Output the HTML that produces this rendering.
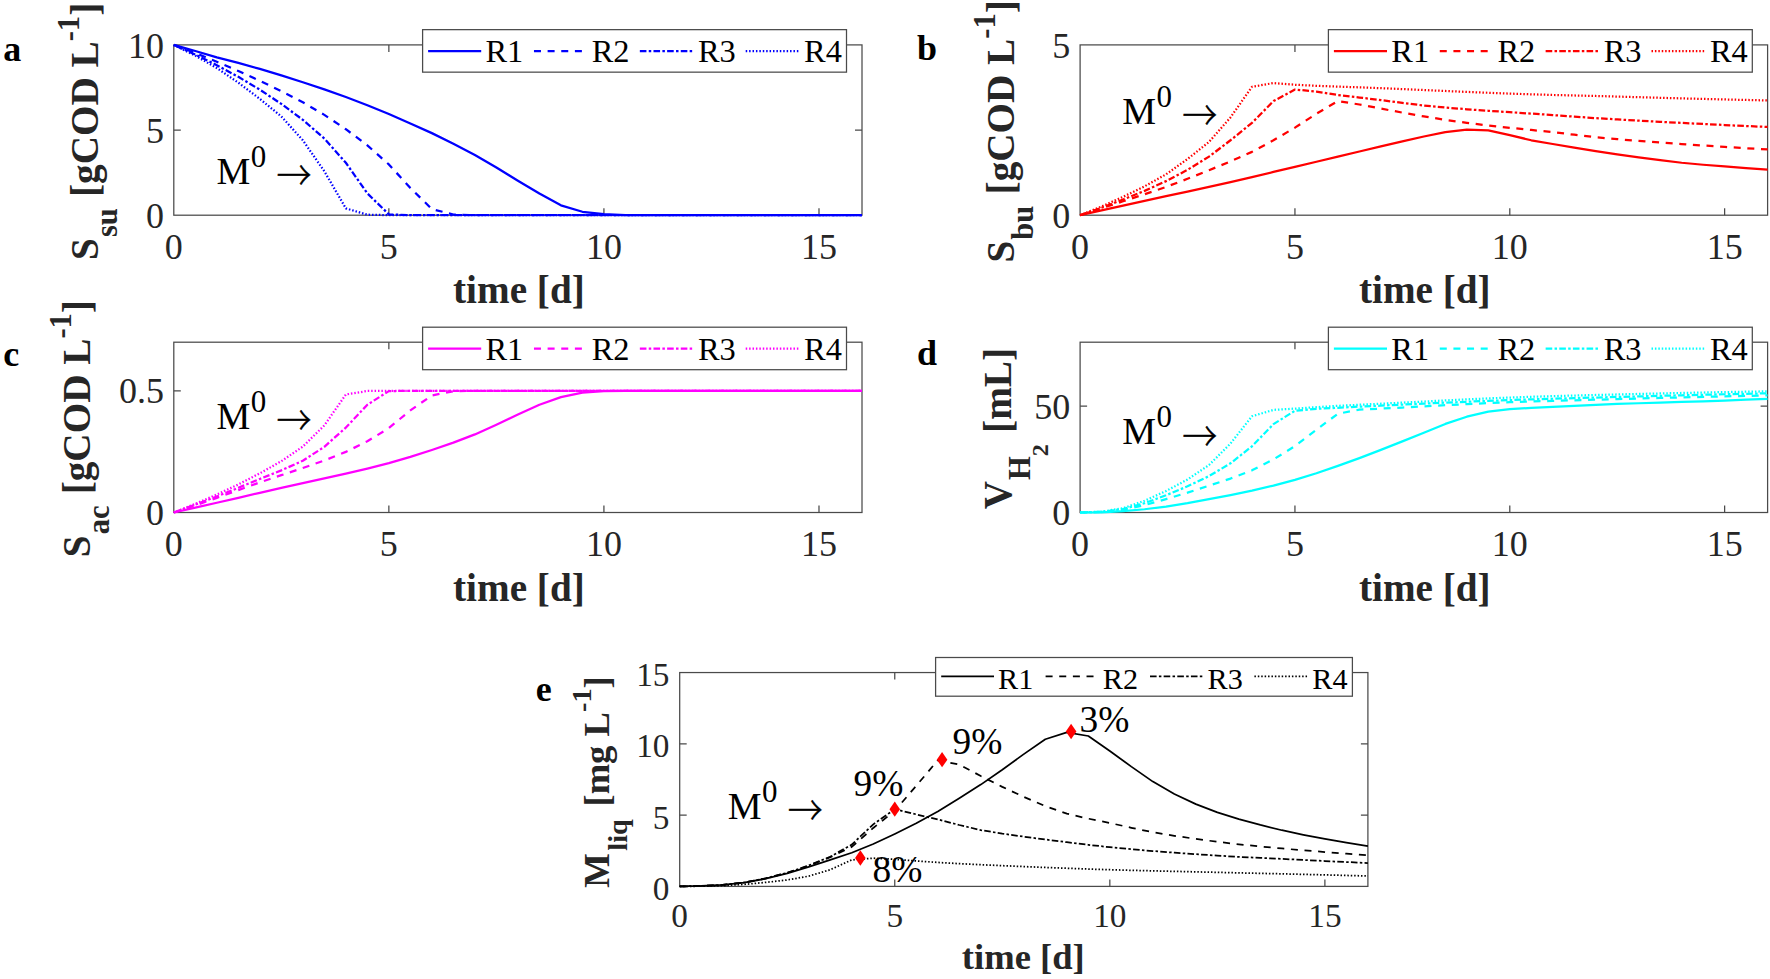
<!DOCTYPE html>
<html lang="en">
<head>
<meta charset="utf-8">
<title>Figure</title>
<style>
html,body{margin:0;padding:0;background:#fff;}
svg{display:block;font-family:"Liberation Serif",serif;}
</style>
</head>
<body>
<svg width="1770" height="979" viewBox="0 0 1770 979">
<rect width="1770" height="979" fill="#fff"/>
<g id="panel-a">
<g stroke="#4a4a4a" stroke-width="1.25" fill="none">
<rect x="173.8" y="44.9" width="688.2" height="170.3"/>
<path d="M388.86 215.2v-7M388.86 44.9v7M603.92 215.2v-7M603.92 44.9v7M818.99 215.2v-7M818.99 44.9v7M173.8 130.05h7M862 130.05h-7"/>
</g>
<clipPath id="clip-a"><rect x="172.3" y="43.4" width="691.2" height="173.3"/></clipPath>
<g clip-path="url(#clip-a)" fill="none" stroke="#0000ff" stroke-width="2.25" stroke-linejoin="round">
<polyline points="173.8,44.9 195.31,51.03 216.81,57.33 238.32,62.95 259.83,68.91 281.33,75.38 302.84,82.2 324.34,89.35 345.85,97.01 367.36,105.19 388.86,114.04 410.37,123.58 431.88,133.12 453.38,143.67 474.89,154.91 496.39,167.52 517.9,180.8 539.41,193.57 560.91,205.32 582.42,211.79 603.92,214.18 625.43,215.03 646.94,215.2 668.44,215.2 689.95,215.2 711.46,215.2 732.96,215.2 754.47,215.2 775.98,215.2 797.48,215.2 818.99,215.2 840.49,215.2 862,215.2"/>
<polyline points="173.8,44.9 195.31,53.06 216.81,61.76 238.32,71.01 259.83,80.83 281.33,91.16 302.84,102.29 324.34,114.89 345.85,129.2 367.36,145.38 388.86,164.45 410.37,187.95 431.88,209.07 453.38,214.52 474.89,215.2 496.39,215.2 517.9,215.2 539.41,215.2 560.91,215.2 582.42,215.2 603.92,215.2 625.43,215.2 646.94,215.2 668.44,215.2 689.95,215.2 711.46,215.2 732.96,215.2 754.47,215.2 775.98,215.2 797.48,215.2 818.99,215.2 840.49,215.2 862,215.2" stroke-dasharray="7 6.64"/>
<polyline points="173.8,44.9 195.31,54.53 216.81,65.17 238.32,76.82 259.83,89.69 281.33,103.91 302.84,119.83 324.34,138.56 345.85,162.75 367.36,193.4 388.86,214.35 410.37,215.2 431.88,215.2 453.38,215.2 474.89,215.2 496.39,215.2 517.9,215.2 539.41,215.2 560.91,215.2 582.42,215.2 603.92,215.2 625.43,215.2 646.94,215.2 668.44,215.2 689.95,215.2 711.46,215.2 732.96,215.2 754.47,215.2 775.98,215.2 797.48,215.2 818.99,215.2 840.49,215.2 862,215.2" stroke-dasharray="6.6 2.3 2.5 2.24" stroke-dashoffset="10.51"/>
<polyline points="173.8,44.9 195.31,55.59 216.81,68.06 238.32,82.65 259.83,98.89 281.33,116.43 302.84,140.27 324.34,171.26 345.85,208.39 367.36,214.69 388.86,215.2 410.37,215.2 431.88,215.2 453.38,215.2 474.89,215.2 496.39,215.2 517.9,215.2 539.41,215.2 560.91,215.2 582.42,215.2 603.92,215.2 625.43,215.2 646.94,215.2 668.44,215.2 689.95,215.2 711.46,215.2 732.96,215.2 754.47,215.2 775.98,215.2 797.48,215.2 818.99,215.2 840.49,215.2 862,215.2" stroke-dasharray="1.5 1.91"/>
</g>
<g fill="#262626" font-size="36">
<text x="173.8" y="258.9" text-anchor="middle">0</text>
<text x="388.86" y="258.9" text-anchor="middle">5</text>
<text x="603.92" y="258.9" text-anchor="middle">10</text>
<text x="818.99" y="258.9" text-anchor="middle">15</text>
<text x="163.9" y="227.8" text-anchor="end">0</text>
<text x="163.9" y="142.65" text-anchor="end">5</text>
<text x="163.9" y="57.5" text-anchor="end">10</text>
</g>
<text x="518.9" y="303.2" text-anchor="middle" font-size="39.2" font-weight="bold" fill="#262626">time [d]</text>
<text transform="translate(98.3,131.35) rotate(-90)" text-anchor="middle" font-size="39.2" font-weight="bold" fill="#262626">S<tspan font-size="30.5" dx="1.0" dy="19">su</tspan><tspan dx="1.5" dy="-19"> [gCOD L</tspan><tspan font-size="30.5" dy="-19.3">-1</tspan><tspan dy="19.3">]</tspan></text>
<rect x="422.6" y="29.65" width="423.9" height="42.5" fill="#fff" stroke="#4a4a4a" stroke-width="1.25"/>
<line x1="428.1" y1="51" x2="481.2" y2="51" stroke="#0000ff" stroke-width="2.25"/>
<text x="485.5" y="62.3" font-size="32.4" fill="#000">R1</text>
<line x1="533.97" y1="51" x2="587.07" y2="51" stroke="#0000ff" stroke-width="2.25" stroke-dasharray="7 6.64"/>
<text x="591.7" y="62.3" font-size="32.4" fill="#000">R2</text>
<line x1="639.84" y1="51" x2="692.94" y2="51" stroke="#0000ff" stroke-width="2.25" stroke-dasharray="6.6 2.3 2.5 2.24"/>
<text x="697.9" y="62.3" font-size="32.4" fill="#000">R3</text>
<line x1="745.71" y1="51" x2="798.81" y2="51" stroke="#0000ff" stroke-width="2.25" stroke-dasharray="1.5 1.91"/>
<text x="804.1" y="62.3" font-size="32.4" fill="#000">R4</text>
<text x="216.4" y="183.9" font-size="38" fill="#000">M<tspan font-size="31" dx="0.6" dy="-17">0</tspan></text>
<text transform="translate(276.4,175.2) scale(1,1.13)" y="13.3" font-size="35" font-family="'Noto Serif CJK SC','Noto Serif CJK JP',serif" fill="#000" stroke="#000" stroke-width="0.4">→</text>
<text x="3.3" y="60.9" font-size="36" font-weight="bold" fill="#000">a</text>
</g>
<g id="panel-b">
<g stroke="#4a4a4a" stroke-width="1.25" fill="none">
<rect x="1080.1" y="44.9" width="687.5" height="170.3"/>
<path d="M1294.94 215.2v-7M1294.94 44.9v7M1509.79 215.2v-7M1509.79 44.9v7M1724.63 215.2v-7M1724.63 44.9v7"/>
</g>
<clipPath id="clip-b"><rect x="1078.6" y="43.4" width="690.5" height="173.3"/></clipPath>
<g clip-path="url(#clip-b)" fill="none" stroke="#ff0000" stroke-width="2.25" stroke-linejoin="round">
<polyline points="1080.1,215.2 1101.58,210.43 1123.07,205.66 1144.55,200.87 1166.04,196.13 1187.52,191.54 1209.01,186.93 1230.49,182.17 1251.97,177.22 1273.46,171.94 1294.94,166.83 1316.43,161.73 1337.91,156.62 1359.4,151.51 1380.88,146.4 1402.37,141.29 1423.85,136.52 1445.33,132.09 1466.82,129.54 1488.3,130.39 1509.79,135.16 1531.27,140.27 1552.76,144.01 1574.24,147.68 1595.72,151.17 1617.21,154.34 1638.69,157.3 1660.18,160.19 1681.66,162.75 1703.15,164.75 1724.63,166.49 1746.12,168.11 1767.6,169.56"/>
<polyline points="1080.1,215.2 1101.58,208.26 1123.07,201.24 1144.55,194.24 1166.04,186.93 1187.52,178.82 1209.01,170.24 1230.49,161.39 1251.97,151.85 1273.46,140.27 1294.94,127.67 1316.43,113.7 1337.91,101.1 1359.4,104.51 1380.88,108.59 1402.37,112.63 1423.85,116.43 1445.33,119.85 1466.82,122.9 1488.3,125.5 1509.79,127.84 1531.27,129.96 1552.76,132.09 1574.24,134.71 1595.72,137.2 1617.21,139.16 1638.69,140.9 1660.18,142.49 1681.66,144.01 1703.15,145.49 1724.63,146.9 1746.12,148.23 1767.6,149.46" stroke-dasharray="7 6.64"/>
<polyline points="1080.1,215.2 1101.58,207.69 1123.07,199.53 1144.55,190.85 1166.04,181.14 1187.52,169.81 1209.01,156.62 1230.49,140.27 1251.97,122.9 1273.46,101.1 1294.94,89.52 1316.43,91.58 1337.91,94.97 1359.4,97.52 1380.88,100.08 1402.37,102.91 1423.85,105.53 1445.33,107.55 1466.82,109.27 1488.3,110.77 1509.79,112.17 1531.27,113.61 1552.76,115.06 1574.24,116.63 1595.72,118.13 1617.21,119.43 1638.69,120.64 1660.18,121.79 1681.66,122.9 1703.15,123.98 1724.63,125.02 1746.12,126.03 1767.6,126.98" stroke-dasharray="6.6 2.3 2.5 2.24"/>
<polyline points="1080.1,215.2 1101.58,206.49 1123.07,196.81 1144.55,186.34 1166.04,174.33 1187.52,159 1209.01,141.97 1230.49,117.45 1251.97,86.79 1273.46,83.05 1294.94,84.75 1316.43,85.8 1337.91,86.62 1359.4,87.35 1380.88,88.16 1402.37,89.08 1423.85,90.03 1445.33,90.99 1466.82,91.9 1488.3,92.79 1509.79,93.61 1531.27,94.33 1552.76,94.97 1574.24,95.49 1595.72,95.99 1617.21,96.57 1638.69,97.18 1660.18,97.79 1681.66,98.37 1703.15,98.92 1724.63,99.44 1746.12,99.94 1767.6,100.42" stroke-dasharray="1.5 1.91"/>
</g>
<g fill="#262626" font-size="36">
<text x="1080.1" y="258.9" text-anchor="middle">0</text>
<text x="1294.94" y="258.9" text-anchor="middle">5</text>
<text x="1509.79" y="258.9" text-anchor="middle">10</text>
<text x="1724.63" y="258.9" text-anchor="middle">15</text>
<text x="1070.2" y="227.8" text-anchor="end">0</text>
<text x="1070.2" y="57.5" text-anchor="end">5</text>
</g>
<text x="1424.85" y="303.2" text-anchor="middle" font-size="39.2" font-weight="bold" fill="#262626">time [d]</text>
<text transform="translate(1013.8,131.35) rotate(-90)" text-anchor="middle" font-size="39.2" font-weight="bold" fill="#262626">S<tspan font-size="30.5" dx="1.0" dy="19">bu</tspan><tspan dx="1.5" dy="-19"> [gCOD L</tspan><tspan font-size="30.5" dy="-19.3">-1</tspan><tspan dy="19.3">]</tspan></text>
<rect x="1328.4" y="29.65" width="423.9" height="42.5" fill="#fff" stroke="#4a4a4a" stroke-width="1.25"/>
<line x1="1333.9" y1="51" x2="1387" y2="51" stroke="#ff0000" stroke-width="2.25"/>
<text x="1391.3" y="62.3" font-size="32.4" fill="#000">R1</text>
<line x1="1439.77" y1="51" x2="1492.87" y2="51" stroke="#ff0000" stroke-width="2.25" stroke-dasharray="7 6.64"/>
<text x="1497.5" y="62.3" font-size="32.4" fill="#000">R2</text>
<line x1="1545.64" y1="51" x2="1598.74" y2="51" stroke="#ff0000" stroke-width="2.25" stroke-dasharray="6.6 2.3 2.5 2.24"/>
<text x="1603.7" y="62.3" font-size="32.4" fill="#000">R3</text>
<line x1="1651.51" y1="51" x2="1704.61" y2="51" stroke="#ff0000" stroke-width="2.25" stroke-dasharray="1.5 1.91"/>
<text x="1709.9" y="62.3" font-size="32.4" fill="#000">R4</text>
<text x="1122.2" y="124.1" font-size="38" fill="#000">M<tspan font-size="31" dx="0.6" dy="-17">0</tspan></text>
<text transform="translate(1182.2,115.4) scale(1,1.13)" y="13.3" font-size="35" font-family="'Noto Serif CJK SC','Noto Serif CJK JP',serif" fill="#000" stroke="#000" stroke-width="0.4">→</text>
<text x="917" y="59.6" font-size="36" font-weight="bold" fill="#000">b</text>
</g>
<g id="panel-c">
<g stroke="#4a4a4a" stroke-width="1.25" fill="none">
<rect x="173.8" y="342.2" width="688.2" height="170.3"/>
<path d="M388.86 512.5v-7M388.86 342.2v7M603.92 512.5v-7M603.92 342.2v7M818.99 512.5v-7M818.99 342.2v7M173.8 390.86h7M862 390.86h-7"/>
</g>
<clipPath id="clip-c"><rect x="172.3" y="340.7" width="691.2" height="173.3"/></clipPath>
<g clip-path="url(#clip-c)" fill="none" stroke="#ff00ff" stroke-width="2.25" stroke-linejoin="round">
<polyline points="173.8,512.5 195.31,507.66 216.81,502.77 238.32,497.78 259.83,492.79 281.33,487.9 302.84,483.06 324.34,478.36 345.85,473.57 367.36,468.56 388.86,463.11 410.37,456.87 431.88,449.98 453.38,442.6 474.89,434.41 496.39,424.7 517.9,414.46 539.41,404.72 560.91,397.18 582.42,392.56 603.92,391.03 625.43,390.86 646.94,390.86 668.44,390.86 689.95,390.86 711.46,390.86 732.96,390.86 754.47,390.86 775.98,390.86 797.48,390.86 818.99,390.86 840.49,390.86 862,390.86"/>
<polyline points="173.8,512.5 195.31,505.32 216.81,497.9 238.32,490.1 259.83,482.33 281.33,475.18 302.84,467.98 324.34,460.45 345.85,451.92 367.36,441.25 388.86,428.08 410.37,410.32 431.88,395.48 453.38,391.2 474.89,390.86 496.39,390.86 517.9,390.86 539.41,390.86 560.91,390.86 582.42,390.86 603.92,390.86 625.43,390.86 646.94,390.86 668.44,390.86 689.95,390.86 711.46,390.86 732.96,390.86 754.47,390.86 775.98,390.86 797.48,390.86 818.99,390.86 840.49,390.86 862,390.86" stroke-dasharray="7 6.64"/>
<polyline points="173.8,512.5 195.31,504.65 216.81,496.44 238.32,487.82 259.83,478.93 281.33,470.39 302.84,460.68 324.34,446.81 345.85,427.59 367.36,404.72 388.86,391.1 410.37,390.86 431.88,390.86 453.38,390.86 474.89,390.86 496.39,390.86 517.9,390.86 539.41,390.86 560.91,390.86 582.42,390.86 603.92,390.86 625.43,390.86 646.94,390.86 668.44,390.86 689.95,390.86 711.46,390.86 732.96,390.86 754.47,390.86 775.98,390.86 797.48,390.86 818.99,390.86 840.49,390.86 862,390.86" stroke-dasharray="6.6 2.3 2.5 2.24" stroke-dashoffset="13"/>
<polyline points="173.8,512.5 195.31,503.88 216.81,494.5 238.32,484.44 259.83,473.33 281.33,461.2 302.84,446.57 324.34,425.4 345.85,394.51 367.36,390.98 388.86,390.86 410.37,390.86 431.88,390.86 453.38,390.86 474.89,390.86 496.39,390.86 517.9,390.86 539.41,390.86 560.91,390.86 582.42,390.86 603.92,390.86 625.43,390.86 646.94,390.86 668.44,390.86 689.95,390.86 711.46,390.86 732.96,390.86 754.47,390.86 775.98,390.86 797.48,390.86 818.99,390.86 840.49,390.86 862,390.86" stroke-dasharray="1.5 1.91"/>
</g>
<g fill="#262626" font-size="36">
<text x="173.8" y="556.2" text-anchor="middle">0</text>
<text x="388.86" y="556.2" text-anchor="middle">5</text>
<text x="603.92" y="556.2" text-anchor="middle">10</text>
<text x="818.99" y="556.2" text-anchor="middle">15</text>
<text x="163.9" y="525.1" text-anchor="end">0</text>
<text x="163.9" y="403.46" text-anchor="end">0.5</text>
</g>
<text x="518.9" y="600.5" text-anchor="middle" font-size="39.2" font-weight="bold" fill="#262626">time [d]</text>
<text transform="translate(89.8,428.65) rotate(-90)" text-anchor="middle" font-size="39.2" font-weight="bold" fill="#262626">S<tspan font-size="30.5" dx="1.0" dy="19">ac</tspan><tspan dx="1.5" dy="-19"> [gCOD L</tspan><tspan font-size="30.5" dy="-19.3">-1</tspan><tspan dy="19.3">]</tspan></text>
<rect x="422.6" y="327.2" width="423.9" height="42.5" fill="#fff" stroke="#4a4a4a" stroke-width="1.25"/>
<line x1="428.1" y1="348.55" x2="481.2" y2="348.55" stroke="#ff00ff" stroke-width="2.25"/>
<text x="485.5" y="359.85" font-size="32.4" fill="#000">R1</text>
<line x1="533.97" y1="348.55" x2="587.07" y2="348.55" stroke="#ff00ff" stroke-width="2.25" stroke-dasharray="7 6.64"/>
<text x="591.7" y="359.85" font-size="32.4" fill="#000">R2</text>
<line x1="639.84" y1="348.55" x2="692.94" y2="348.55" stroke="#ff00ff" stroke-width="2.25" stroke-dasharray="6.6 2.3 2.5 2.24"/>
<text x="697.9" y="359.85" font-size="32.4" fill="#000">R3</text>
<line x1="745.71" y1="348.55" x2="798.81" y2="348.55" stroke="#ff00ff" stroke-width="2.25" stroke-dasharray="1.5 1.91"/>
<text x="804.1" y="359.85" font-size="32.4" fill="#000">R4</text>
<text x="216.4" y="429" font-size="38" fill="#000">M<tspan font-size="31" dx="0.6" dy="-17">0</tspan></text>
<text transform="translate(276.4,420.3) scale(1,1.13)" y="13.3" font-size="35" font-family="'Noto Serif CJK SC','Noto Serif CJK JP',serif" fill="#000" stroke="#000" stroke-width="0.4">→</text>
<text x="3.3" y="365.6" font-size="36" font-weight="bold" fill="#000">c</text>
</g>
<g id="panel-d">
<g stroke="#4a4a4a" stroke-width="1.25" fill="none">
<rect x="1080.1" y="342.2" width="687.5" height="170.3"/>
<path d="M1294.94 512.5v-7M1294.94 342.2v7M1509.79 512.5v-7M1509.79 342.2v7M1724.63 512.5v-7M1724.63 342.2v7M1080.1 406.06h7M1767.6 406.06h-7"/>
</g>
<clipPath id="clip-d"><rect x="1078.6" y="340.7" width="690.5" height="173.3"/></clipPath>
<g clip-path="url(#clip-d)" fill="none" stroke="#00ffff" stroke-width="2.25" stroke-linejoin="round">
<polyline points="1080.1,512.5 1101.58,512.29 1123.07,511.22 1144.55,509.25 1166.04,506.54 1187.52,503.09 1209.01,499.09 1230.49,495.02 1251.97,490.57 1273.46,485.58 1294.94,479.93 1316.43,473.26 1337.91,465.88 1359.4,458.1 1380.88,449.91 1402.37,441.4 1423.85,432.67 1445.33,423.94 1466.82,416.71 1488.3,411.6 1509.79,409.04 1531.27,407.85 1552.76,406.91 1574.24,405.8 1595.72,404.79 1617.21,403.97 1638.69,403.25 1660.18,402.59 1681.66,401.94 1703.15,401.27 1724.63,400.53 1746.12,399.7 1767.6,398.82"/>
<polyline points="1080.1,512.5 1101.58,511.97 1123.07,509.73 1144.55,505.14 1166.04,499.09 1187.52,492.69 1209.01,485.68 1230.49,478.57 1251.97,470.35 1273.46,459.41 1294.94,446.08 1316.43,429.69 1337.91,413.73 1359.4,409.68 1380.88,408.62 1402.37,407.51 1423.85,406.36 1445.33,405.21 1466.82,404.11 1488.3,403.1 1509.79,402.23 1531.27,401.5 1552.76,400.85 1574.24,400.26 1595.72,399.68 1617.21,399.09 1638.69,398.52 1660.18,397.97 1681.66,397.42 1703.15,396.89 1724.63,396.38 1746.12,395.89 1767.6,395.42" stroke-dasharray="7 6.64"/>
<polyline points="1080.1,512.5 1101.58,511.86 1123.07,509.09 1144.55,503.21 1166.04,495.26 1187.52,486.32 1209.01,476.1 1230.49,463.33 1251.97,446.3 1273.46,424.16 1294.94,410.75 1316.43,408.83 1337.91,407.77 1359.4,406.64 1380.88,405.64 1402.37,404.64 1423.85,403.64 1445.33,402.68 1466.82,401.76 1488.3,400.89 1509.79,400.1 1531.27,399.39 1552.76,398.75 1574.24,398.14 1595.72,397.55 1617.21,396.97 1638.69,396.4 1660.18,395.84 1681.66,395.29 1703.15,394.77 1724.63,394.25 1746.12,393.76 1767.6,393.29" stroke-dasharray="6.6 2.3 2.5 2.24"/>
<polyline points="1080.1,512.5 1101.58,511.65 1123.07,508.24 1144.55,500.79 1166.04,491 1187.52,479.5 1209.01,465.03 1230.49,443.53 1251.97,416.28 1273.46,409.89 1294.94,408.62 1316.43,407.2 1337.91,405.85 1359.4,404.75 1380.88,403.72 1402.37,402.64 1423.85,401.53 1445.33,400.43 1466.82,399.37 1488.3,398.4 1509.79,397.55 1531.27,396.81 1552.76,396.15 1574.24,395.55 1595.72,394.99 1617.21,394.46 1638.69,393.94 1660.18,393.45 1681.66,392.97 1703.15,392.52 1724.63,392.11 1746.12,391.72 1767.6,391.37" stroke-dasharray="1.5 1.91"/>
</g>
<g fill="#262626" font-size="36">
<text x="1080.1" y="556.2" text-anchor="middle">0</text>
<text x="1294.94" y="556.2" text-anchor="middle">5</text>
<text x="1509.79" y="556.2" text-anchor="middle">10</text>
<text x="1724.63" y="556.2" text-anchor="middle">15</text>
<text x="1070.2" y="525.1" text-anchor="end">0</text>
<text x="1070.2" y="418.66" text-anchor="end">50</text>
</g>
<text x="1424.85" y="600.5" text-anchor="middle" font-size="39.2" font-weight="bold" fill="#262626">time [d]</text>
<text transform="translate(1011.2,428.65) rotate(-90)" text-anchor="middle" font-size="39.2" font-weight="bold" fill="#262626">V<tspan font-size="30.5" dx="1" dy="19">H</tspan><tspan font-size="24" dy="18">2</tspan><tspan dx="1.5" dy="-37"> [mL]</tspan></text>
<rect x="1328.4" y="327.2" width="423.9" height="42.5" fill="#fff" stroke="#4a4a4a" stroke-width="1.25"/>
<line x1="1333.9" y1="348.55" x2="1387" y2="348.55" stroke="#00ffff" stroke-width="2.25"/>
<text x="1391.3" y="359.85" font-size="32.4" fill="#000">R1</text>
<line x1="1439.77" y1="348.55" x2="1492.87" y2="348.55" stroke="#00ffff" stroke-width="2.25" stroke-dasharray="7 6.64"/>
<text x="1497.5" y="359.85" font-size="32.4" fill="#000">R2</text>
<line x1="1545.64" y1="348.55" x2="1598.74" y2="348.55" stroke="#00ffff" stroke-width="2.25" stroke-dasharray="6.6 2.3 2.5 2.24"/>
<text x="1603.7" y="359.85" font-size="32.4" fill="#000">R3</text>
<line x1="1651.51" y1="348.55" x2="1704.61" y2="348.55" stroke="#00ffff" stroke-width="2.25" stroke-dasharray="1.5 1.91"/>
<text x="1709.9" y="359.85" font-size="32.4" fill="#000">R4</text>
<text x="1122.2" y="444.4" font-size="38" fill="#000">M<tspan font-size="31" dx="0.6" dy="-17">0</tspan></text>
<text transform="translate(1182.2,435.7) scale(1,1.13)" y="13.3" font-size="35" font-family="'Noto Serif CJK SC','Noto Serif CJK JP',serif" fill="#000" stroke="#000" stroke-width="0.4">→</text>
<text x="917" y="365.4" font-size="36" font-weight="bold" fill="#000">d</text>
</g>
<g id="panel-e">
<g stroke="#4a4a4a" stroke-width="1.25" fill="none">
<rect x="679.7" y="672.55" width="688.2" height="213.85"/>
<path d="M894.76 886.4v-7M894.76 672.55v7M1109.83 886.4v-7M1109.83 672.55v7M1324.89 886.4v-7M1324.89 672.55v7M679.7 815.12h7M1367.9 815.12h-7M679.7 743.83h7M1367.9 743.83h-7"/>
</g>
<clipPath id="clip-e"><rect x="678.2" y="671.05" width="691.2" height="216.85"/></clipPath>
<g clip-path="url(#clip-e)" fill="none" stroke="#000000" stroke-width="1.75" stroke-linejoin="round">
<polyline points="679.7,886.4 701.21,885.98 722.71,884.97 744.22,882.57 765.73,878.7 787.23,873.38 808.74,866.87 830.24,859.88 851.75,852.75 873.26,844.06 894.76,833.94 916.27,823.24 937.78,811.55 959.28,798.29 980.79,784.61 1002.29,769.78 1023.8,754.1 1045.31,739.27 1066.81,732.43 1088.32,735.99 1109.83,750.96 1131.33,766.64 1152.84,781.61 1174.34,794.02 1195.85,804.14 1217.36,812.41 1238.86,819.11 1260.37,824.95 1281.88,830.23 1303.38,834.79 1324.89,838.93 1346.39,842.63 1367.9,846.2"/>
<polyline points="679.7,886.4 701.21,885.98 722.71,884.97 744.22,882.48 765.73,878.42 787.23,872.84 808.74,865.73 830.24,857.17 851.75,846.91 873.26,827.95 894.76,810.84 916.27,785.75 937.78,760.37 959.28,764.51 980.79,776.05 1002.29,786.89 1023.8,796.87 1045.31,806.11 1066.81,813.69 1088.32,818.66 1109.83,822.96 1131.33,827.78 1152.84,832.22 1174.34,835.8 1195.85,838.93 1217.36,841.8 1238.86,844.34 1260.37,846.52 1281.88,848.48 1303.38,850.32 1324.89,852.04 1346.39,853.66 1367.9,855.18" stroke-dasharray="7 6.64"/>
<polyline points="679.7,886.4 701.21,885.98 722.71,884.97 744.22,882.49 765.73,878.42 787.23,872.73 808.74,865.44 830.24,856.75 851.75,844.63 873.26,824.38 894.76,809.13 916.27,814.4 937.78,819.39 959.28,825.01 980.79,830.09 1002.29,833.63 1023.8,836.64 1045.31,839.52 1066.81,842.2 1088.32,844.81 1109.83,847.19 1131.33,849.23 1152.84,851.04 1174.34,852.68 1195.85,854.18 1217.36,855.61 1238.86,856.89 1260.37,857.92 1281.88,858.88 1303.38,859.95 1324.89,861.02 1346.39,862.04 1367.9,863.02" stroke-dasharray="6.6 2.3 2.5 2.24"/>
<polyline points="679.7,886.4 701.21,886.19 722.71,885.69 744.22,884.4 765.73,882.41 787.23,879.98 808.74,876.14 830.24,869.72 851.75,859.88 873.26,858.17 894.76,859.31 916.27,860.89 937.78,862.45 959.28,863.64 980.79,864.71 1002.29,865.67 1023.8,866.58 1045.31,867.46 1066.81,868.28 1088.32,869.04 1109.83,869.72 1131.33,870.31 1152.84,870.85 1174.34,871.35 1195.85,871.86 1217.36,872.36 1238.86,872.86 1260.37,873.35 1281.88,873.85 1303.38,874.38 1324.89,874.91 1346.39,875.44 1367.9,875.99" stroke-dasharray="1.5 1.91"/>
</g>
<g fill="#262626" font-size="33.3">
<text x="679.7" y="927.1" text-anchor="middle">0</text>
<text x="894.76" y="927.1" text-anchor="middle">5</text>
<text x="1109.83" y="927.1" text-anchor="middle">10</text>
<text x="1324.89" y="927.1" text-anchor="middle">15</text>
<text x="669.5" y="899.8" text-anchor="end">0</text>
<text x="669.5" y="828.52" text-anchor="end">5</text>
<text x="669.5" y="757.23" text-anchor="end">10</text>
<text x="669.5" y="685.95" text-anchor="end">15</text>
</g>
<text x="1023.3" y="968.7" text-anchor="middle" font-size="36.6" font-weight="bold" fill="#262626">time [d]</text>
<text transform="translate(609.2,781.97) rotate(-90)" text-anchor="middle" font-size="36.6" font-weight="bold" fill="#262626">M<tspan font-size="28.3" dx="2.5" dy="17.6">liq</tspan><tspan dx="3.5" dy="-17.6"> [mg L</tspan><tspan font-size="28.3" dy="-17.9">-1</tspan><tspan dy="17.9">]</tspan></text>
<rect x="935.6" y="657.5" width="416.8" height="38.7" fill="#fff" stroke="#4a4a4a" stroke-width="1.25"/>
<line x1="941.2" y1="676.4" x2="994" y2="676.4" stroke="#000000" stroke-width="1.75"/>
<text x="998.1" y="688.5" font-size="30.2" fill="#000">R1</text>
<line x1="1045.6" y1="676.4" x2="1098.4" y2="676.4" stroke="#000000" stroke-width="1.75" stroke-dasharray="7 6.64"/>
<text x="1102.83" y="688.5" font-size="30.2" fill="#000">R2</text>
<line x1="1150" y1="676.4" x2="1202.8" y2="676.4" stroke="#000000" stroke-width="1.75" stroke-dasharray="6.6 2.3 2.5 2.24"/>
<text x="1207.56" y="688.5" font-size="30.2" fill="#000">R3</text>
<line x1="1254.4" y1="676.4" x2="1307.2" y2="676.4" stroke="#000000" stroke-width="1.75" stroke-dasharray="1.5 1.91"/>
<text x="1312.29" y="688.5" font-size="30.2" fill="#000">R4</text>
<text x="727.7" y="819.1" font-size="38" fill="#000">M<tspan font-size="31" dx="0.6" dy="-17">0</tspan></text>
<text transform="translate(787.7,810.4) scale(1,1.13)" y="13.3" font-size="35" font-family="'Noto Serif CJK SC','Noto Serif CJK JP',serif" fill="#000" stroke="#000" stroke-width="0.4">→</text>
<text x="535.8" y="700.6" font-size="36" font-weight="bold" fill="#000">e</text>
</g>
<g id="panel-e-extras"><path d="M860.35 850.33L865.65 858.03L860.35 865.73L855.05 858.03Z" fill="#ff0000"/>
<path d="M894.76 801.43L900.06 809.13L894.76 816.83L889.46 809.13Z" fill="#ff0000"/>
<path d="M942.08 751.96L947.38 759.66L942.08 767.36L936.78 759.66Z" fill="#ff0000"/>
<path d="M1071.11 723.73L1076.41 731.43L1071.11 739.13L1065.81 731.43Z" fill="#ff0000"/>
<text x="853.5" y="795.6" font-size="37.4" fill="#000">9%</text>
<text x="952.5" y="753.8" font-size="37.4" fill="#000">9%</text>
<text x="1079.6" y="731.9" font-size="37.4" fill="#000">3%</text>
<text x="872.5" y="882.3" font-size="37.4" fill="#000">8%</text></g>
</svg>
</body>
</html>
